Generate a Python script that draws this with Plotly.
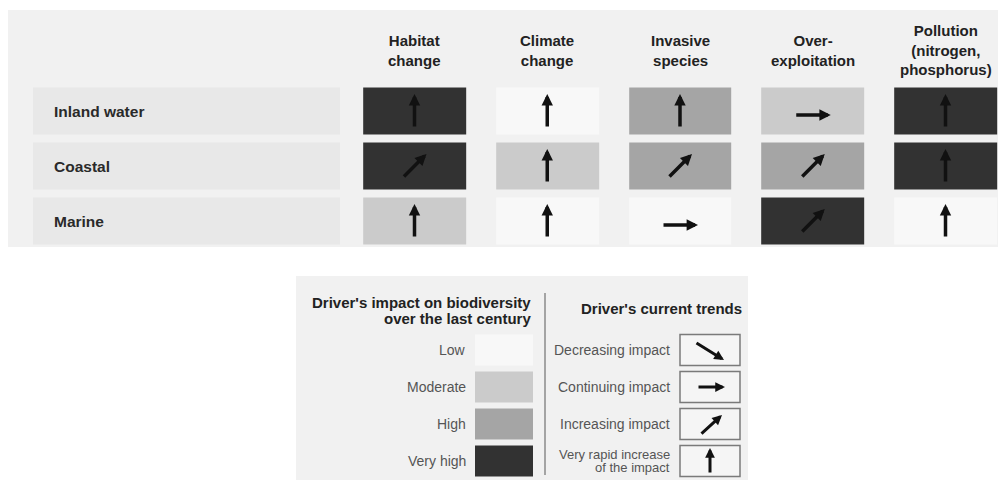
import plotly.graph_objects as go

# ---------------- data ----------------
ecosystems = ["Inland water", "Coastal", "Marine"]
drivers = ["Habitat<br>change", "Climate<br>change", "Invasive<br>species",
           "Over-<br>exploitation", "Pollution<br>(nitrogen,<br>phosphorus)"]
impact_levels = ["Low", "Moderate", "High", "Very high"]
impact_colors = ["#f8f8f8", "#cbcbcb", "#a5a5a5", "#323232"]
trend_keys = ["decreasing", "continuing", "increasing", "very_rapid"]
trend_labels = [["Decreasing impact"], ["Continuing impact"], ["Increasing impact"],
                ["Very rapid increase", "of the impact"]]

# impact level index per ecosystem (rows) x driver (cols)
impact = [
    [3, 0, 2, 1, 3],
    [3, 1, 2, 2, 3],
    [1, 0, 0, 3, 0],
]
trend = [
    ["very_rapid", "very_rapid", "very_rapid", "continuing", "very_rapid"],
    ["increasing", "very_rapid", "increasing", "increasing", "very_rapid"],
    ["very_rapid", "very_rapid", "continuing", "increasing", "very_rapid"],
]

# ---------------- layout geometry (screen pixels) ----------------
SW, SH = 1006, 480          # browser window
OX, OY = 8, 8               # default page margin around the plot div
W, H = SW - OX, SH - OY     # figure size
COL0, COLW = 414.5, 132.75  # centre of first column, column pitch (screen px)
ROW0, ROWH = 111.0, 55.0    # centre of first row, row pitch (screen px)
LROW0, LROWH = 350.0, 37.0  # legend rows (screen px)

def gx(px):
    return (px - COL0) / COLW

def gy(py):
    return (py - ROW0) / ROWH

def xp(px):
    return (px - OX) / W

def yp(py):
    return (H - (py - OY)) / H

# arrow geometry: (tail dx, tail dy, head dx, head dy) in px from cell centre
ARROWS = {
    "very_rapid": (0, 17, 0, -17),
    "continuing": (-18, 4, 18, 4),
    "increasing": (-12, 12, 12, -12),
    "decreasing": (-14, -9, 14, 9),
}
LARROWS = {
    "decreasing": (-15, -8, 14, 10),
    "continuing": (-13, 0, 15, 0),
    "increasing": (-10, 11, 12, -9),
    "very_rapid": (0, 13, 0, -13),
}

FONT = "Liberation Sans, Arial, Helvetica, sans-serif"
ARROW_COLOR = "#111111"

fig = go.Figure()

n = len(impact_levels) - 1
cscale = [[i / n, c] for i, c in enumerate(impact_colors)]

# main grid of impact cells
fig.add_trace(go.Heatmap(
    z=impact, x=list(range(len(drivers))), y=list(range(len(ecosystems))),
    zmin=0, zmax=n, colorscale=cscale, showscale=False,
    xgap=30, ygap=8, hoverinfo="skip", xaxis="x", yaxis="y",
))

# legend swatches
fig.add_trace(go.Heatmap(
    z=[[i] for i in range(len(impact_levels))], x=[0],
    y=list(range(len(impact_levels))),
    zmin=0, zmax=n, colorscale=cscale, showscale=False,
    xgap=0, ygap=6, hoverinfo="skip", xaxis="x2", yaxis="y2",
))

shapes = []
annotations = []

# panel backgrounds
shapes.append(dict(type="rect", xref="paper", yref="paper", layer="below",
                   x0=xp(8), x1=1, y0=yp(247), y1=yp(10),
                   fillcolor="#f1f1f1", line=dict(width=0)))
shapes.append(dict(type="rect", xref="paper", yref="paper", layer="below",
                   x0=xp(296), x1=xp(748), y0=0, y1=yp(276),
                   fillcolor="#f1f1f1", line=dict(width=0)))

# row label boxes + labels
for r, name in enumerate(ecosystems):
    shapes.append(dict(type="rect", xref="x", yref="y", layer="below",
                       x0=gx(33), x1=gx(340), y0=r - 23.5 / ROWH, y1=r + 23.5 / ROWH,
                       fillcolor="#e8e8e8", line=dict(width=0)))
    annotations.append(dict(xref="x", yref="y", x=gx(52), y=r, text=name,
                            showarrow=False, xanchor="left", yanchor="middle",
                            font=dict(family=FONT, size=15.5, color="#2a2a2a", weight="bold")))

# column headers
for c, name in enumerate(drivers):
    annotations.append(dict(xref="x", yref="y", x=c, y=gy(50), text=name,
                            showarrow=False, xanchor="center", yanchor="middle",
                            align="center",
                            font=dict(family=FONT, size=15, color="#222222", weight="bold")))

# trend arrows in the grid
for r in range(len(ecosystems)):
    for c in range(len(drivers)):
        tdx, tdy, hdx, hdy = ARROWS[trend[r][c]]
        annotations.append(dict(
            xref="x", yref="y", x=c + hdx / COLW, y=r + hdy / ROWH,
            ax=tdx - hdx, ay=tdy - hdy, axref="pixel", ayref="pixel",
            text="", showarrow=True, arrowhead=2, arrowsize=0.65,
            arrowwidth=3.5, arrowcolor=ARROW_COLOR, standoff=0,
        ))

# ---------------- legend ----------------
LFONT_T = dict(family=FONT, size=15, color="#222222", weight="bold")
LFONT = dict(family=FONT, size=14, color="#555555")

annotations.append(dict(xref="paper", yref="paper", x=xp(533), y=yp(302),
                        text="Driver's impact on biodiversity", showarrow=False,
                        xanchor="right", yanchor="middle", font=LFONT_T))
annotations.append(dict(xref="paper", yref="paper", x=xp(533), y=yp(318),
                        text="over the last century", showarrow=False,
                        xanchor="right", yanchor="middle", font=LFONT_T))
annotations.append(dict(xref="paper", yref="paper", x=xp(661), y=yp(308),
                        text="Driver's current trends", showarrow=False,
                        xanchor="center", yanchor="middle", font=LFONT_T))

for k, lab in enumerate(impact_levels):
    annotations.append(dict(xref="paper", yref="y2", x=xp(468), y=k, text=lab,
                            showarrow=False, xanchor="right", yanchor="middle",
                            font=LFONT))

# divider
shapes.append(dict(type="line", xref="paper", yref="paper",
                   x0=xp(545), x1=xp(545), y0=yp(475), y1=yp(293),
                   line=dict(color="#8a8a8a", width=1.5)))

for k, key in enumerate(trend_keys):
    shapes.append(dict(type="rect", xref="paper", yref="y2",
                       x0=xp(680), x1=xp(740), y0=k - 15.5 / LROWH, y1=k + 15.5 / LROWH,
                       fillcolor="#f5f5f5", line=dict(color="#7a7a7a", width=1.5)))
    lines = trend_labels[k]
    if len(lines) == 1:
        annotations.append(dict(xref="paper", yref="y2", x=xp(672), y=k, text=lines[0],
                                showarrow=False, xanchor="right", yanchor="middle",
                                font=LFONT))
    else:
        for li, t in enumerate(lines):
            annotations.append(dict(xref="paper", yref="y2", x=xp(672),
                                    y=k + (li - 0.5) * 13 / LROWH, text=t,
                                    showarrow=False, xanchor="right", yanchor="middle",
                                    font=dict(LFONT, size=13)))
    tdx, tdy, hdx, hdy = LARROWS[key]
    annotations.append(dict(
        xref="paper", yref="y2", x=xp(710 + hdx), y=k + hdy / LROWH,
        ax=tdx - hdx, ay=tdy - hdy, axref="pixel", ayref="pixel",
        text="", showarrow=True, arrowhead=2, arrowsize=0.65,
        arrowwidth=3, arrowcolor=ARROW_COLOR, standoff=0,
    ))

axis_off = dict(visible=False, showgrid=False, zeroline=False, fixedrange=True)

fig.update_layout(
    width=W, height=H,
    margin=dict(l=0, r=0, t=0, b=0),
    paper_bgcolor="white",
    plot_bgcolor="rgba(0,0,0,0)",
    showlegend=False,
    xaxis=dict(axis_off, domain=[0, 1], range=[gx(OX), gx(SW)]),
    yaxis=dict(axis_off, domain=[0, 1], range=[gy(SH), gy(OY)]),
    xaxis2=dict(axis_off, domain=[xp(475), xp(533)], range=[-0.5, 0.5], anchor="y2"),
    yaxis2=dict(axis_off,
                domain=[yp(LROW0 + 3.5 * LROWH), yp(LROW0 - 0.5 * LROWH)],
                range=[3.5, -0.5], anchor="x2"),
    shapes=shapes,
    annotations=annotations,
)

fig.write_html("out.html")
